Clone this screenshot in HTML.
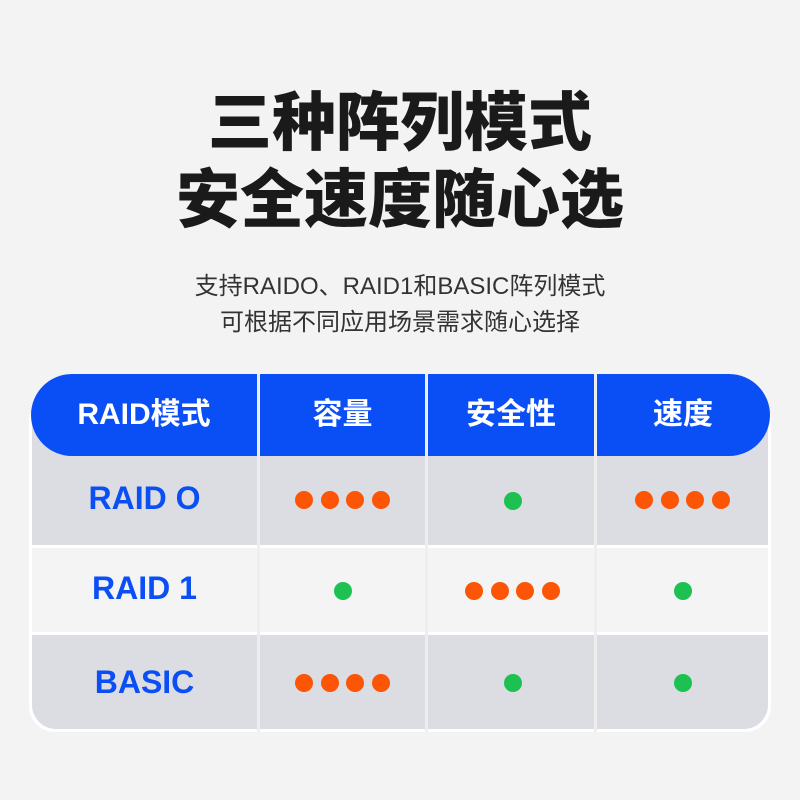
<!DOCTYPE html>
<html><head><meta charset="utf-8"><style>
body{margin:0;width:800px;height:800px;background:#f3f3f3;font-family:"Liberation Sans","Noto Sans CJK SC",sans-serif;position:relative;overflow:hidden}
.t{position:absolute;left:0;width:800px;text-align:center;color:#1a1a1a}
.h{font-size:64px;font-weight:900;letter-spacing:0}
.s{font-size:24px;color:#333}
.wrap{position:absolute;left:29px;top:414px;width:742px;height:318px;background:#fff;border-radius:0 0 26px 26px}
.body{position:absolute;left:3px;top:0;width:736px;height:315px;background:#dcdde2;border-radius:0 0 24px 24px;overflow:hidden}
.r2{position:absolute;left:0;top:131px;width:736px;height:84px;background:#f4f4f5;border-top:3px solid #fff;border-bottom:3px solid #fff}
.vl{position:absolute;width:3px;height:318px;background:#eee;top:414px}
.head{position:absolute;left:31px;top:374px;width:739px;height:82px;background:#0a4ff5;border-radius:41px}
.hc{position:absolute;top:374px;height:82px;line-height:82px;color:#fff;font-size:30px;font-weight:bold;text-align:center}
.hv{position:absolute;top:374px;height:82px;width:3px;background:#eee}
.rc{position:absolute;color:#0a4ff5;font-size:32px;font-weight:bold;text-align:center;width:227px;left:31px}
.d{position:absolute;width:18px;height:18px;border-radius:50%}
.o{background:#fb5505}.g{background:#1dc152}
</style></head><body>
<div class="t h" style="top:72px">三种阵列模式</div>
<div class="t h" style="top:149px">安全速度随心选</div>
<div class="t s" style="top:266px">支持RAIDO、RAID1和BASIC阵列模式</div>
<div class="t s" style="top:302px">可根据不同应用场景需求随心选择</div>
<div class="wrap"><div class="body"><div class="r2"></div></div></div>
<div class="head"></div>
<div class="vl" style="left:257px"></div>
<div class="vl" style="left:425px"></div>
<div class="vl" style="left:594px"></div>
<div class="hv" style="left:257px"></div>
<div class="hv" style="left:425px"></div>
<div class="hv" style="left:594px"></div>
<div class="hc" style="left:31px;width:226px">RAID模式</div>
<div class="hc" style="left:260px;width:165px">容量</div>
<div class="hc" style="left:428px;width:166px">安全性</div>
<div class="hc" style="left:597px;width:172px">速度</div>
<div class="rc" style="top:480px">RAID O</div>
<div class="rc" style="top:570px">RAID 1</div>
<div class="rc" style="top:664px">BASIC</div>
<div class="d o" style="left:295px;top:491px"></div><div class="d o" style="left:321px;top:491px"></div><div class="d o" style="left:346px;top:491px"></div><div class="d o" style="left:372px;top:491px"></div>
<div class="d g" style="left:504px;top:492px"></div>
<div class="d o" style="left:635px;top:491px"></div><div class="d o" style="left:661px;top:491px"></div><div class="d o" style="left:686px;top:491px"></div><div class="d o" style="left:712px;top:491px"></div>
<div class="d g" style="left:334px;top:582px"></div>
<div class="d o" style="left:465px;top:582px"></div><div class="d o" style="left:491px;top:582px"></div><div class="d o" style="left:516px;top:582px"></div><div class="d o" style="left:542px;top:582px"></div>
<div class="d g" style="left:674px;top:582px"></div>
<div class="d o" style="left:295px;top:674px"></div><div class="d o" style="left:321px;top:674px"></div><div class="d o" style="left:346px;top:674px"></div><div class="d o" style="left:372px;top:674px"></div>
<div class="d g" style="left:504px;top:674px"></div>
<div class="d g" style="left:674px;top:674px"></div>
</body></html>
